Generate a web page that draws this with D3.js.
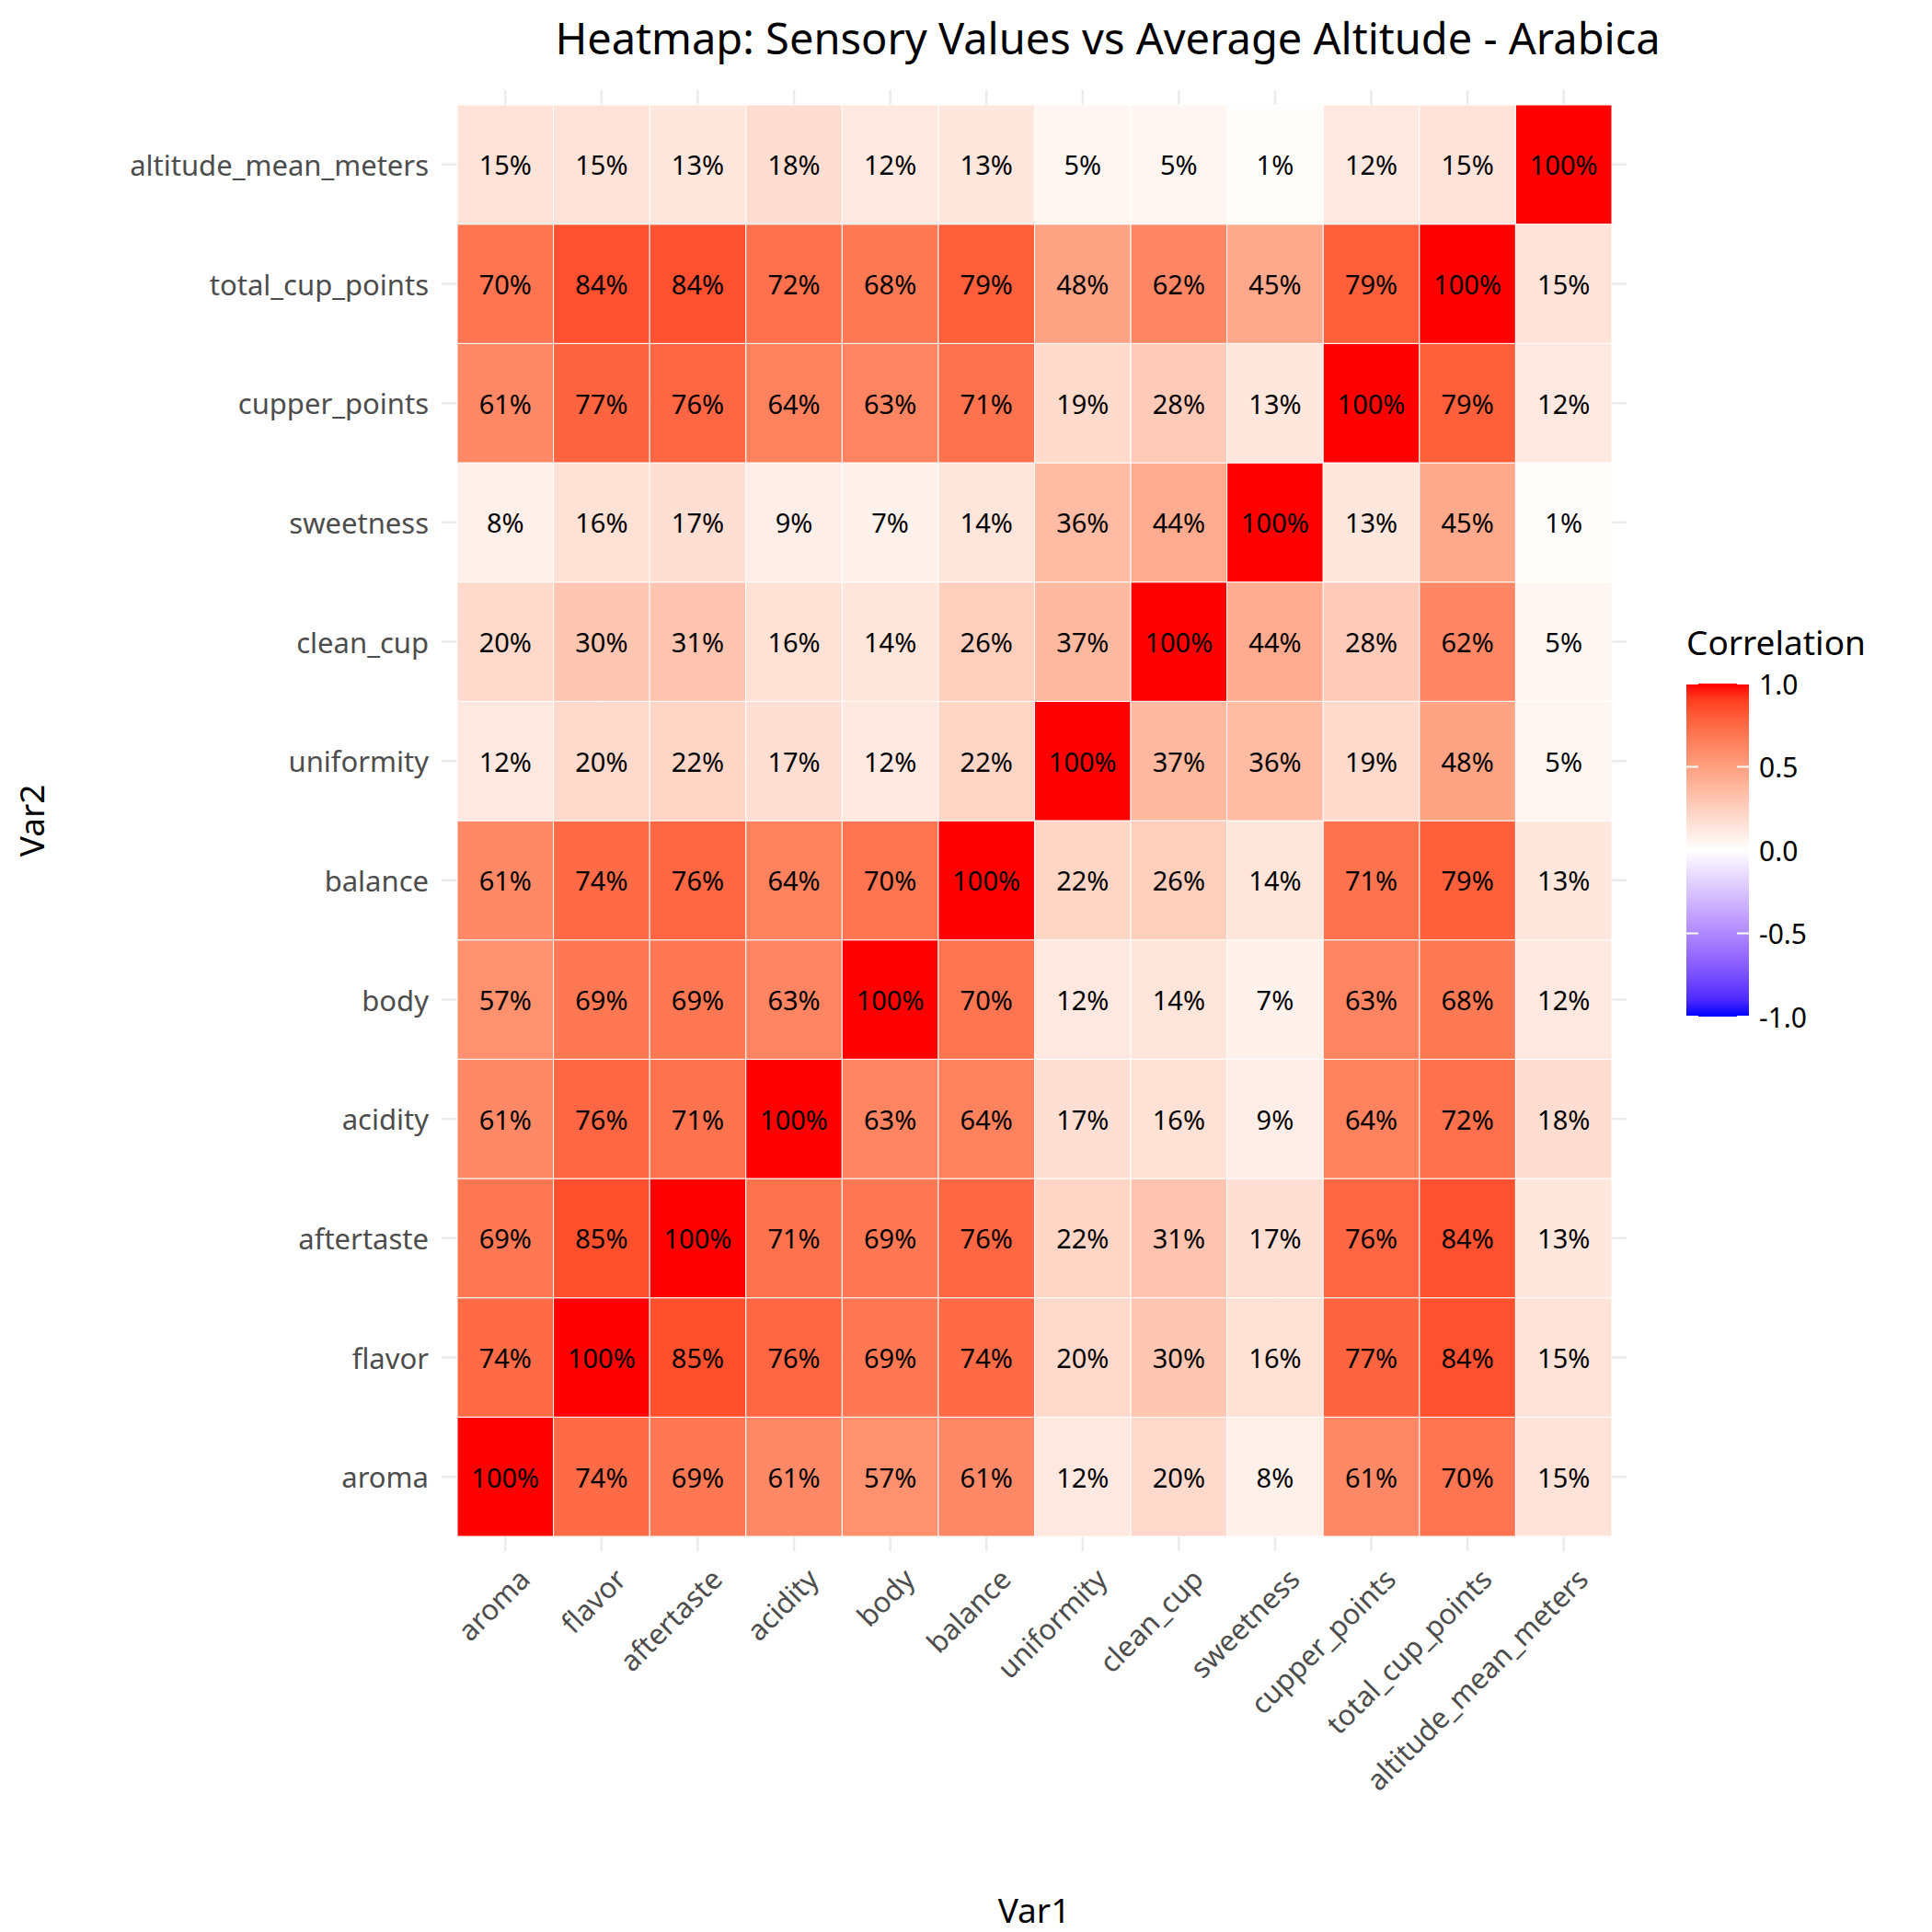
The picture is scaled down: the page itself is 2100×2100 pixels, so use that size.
<!DOCTYPE html>
<html><head><meta charset="utf-8">
<script src="https://cdn.jsdelivr.net/npm/d3@7"></script>
<style>body{margin:0;background:#fff}</style></head>
<body><svg id="c" width="2100" height="2100"></svg>
<script>
const vars = ["aroma","flavor","aftertaste","acidity","body","balance","uniformity","clean_cup","sweetness","cupper_points","total_cup_points","altitude_mean_meters"];
const r_aroma      = [100,74,69,61,57,61,12,20,8,61,70,15];
const r_flavor     = [74,100,85,76,69,74,20,30,16,77,84,15];
const r_aftertaste = [69,85,100,71,69,76,22,31,17,76,84,13];
const r_acidity    = [61,76,71,100,63,64,17,16,9,64,72,18];
const r_body       = [57,69,69,63,100,70,12,14,7,63,68,12];
const r_balance    = [61,74,76,64,70,100,22,26,14,71,79,13];
const r_uniformity = [12,20,22,17,12,22,100,37,36,19,48,5];
const r_clean_cup  = [20,30,31,16,14,26,37,100,44,28,62,5];
const r_sweetness  = [8,16,17,9,7,14,36,44,100,13,45,1];
const r_cupper     = [61,77,76,64,63,71,19,28,13,100,79,12];
const r_total      = [70,84,84,72,68,79,48,62,45,79,100,15];
const r_altitude   = [15,15,13,18,12,13,5,5,1,12,15,100];
const rows = [r_aroma,r_flavor,r_aftertaste,r_acidity,r_body,r_balance,r_uniformity,r_clean_cup,r_sweetness,r_cupper,r_total,r_altitude];
const legendTicks = [1.0,0.5,0.0,-0.5,-1.0];

const svg = d3.select("#c");
const font = "Noto Sans, Open Sans, sans-serif";
const x0=497,x1=1752,y0=114,y1=1670;
const x = d3.scaleBand().domain(vars).range([x0,x1]);
const y = d3.scaleBand().domain(vars).range([y1,y0]);
const color = d3.scaleLinear().domain([-1,0,1]).range(["blue","white","red"]).interpolate(d3.interpolateLab);

const g = svg.append("g");
vars.forEach(v=>{
  g.append("line").attr("x1",x(v)+x.bandwidth()/2).attr("x2",x(v)+x.bandwidth()/2).attr("y1",98).attr("y2",1686).attr("stroke","#ebebeb").attr("stroke-width",2.5);
  g.append("line").attr("y1",y(v)+y.bandwidth()/2).attr("y2",y(v)+y.bandwidth()/2).attr("x1",480).attr("x2",1768).attr("stroke","#ebebeb").attr("stroke-width",2.5);
});
const cells=[];
rows.forEach((row,i)=>row.forEach((val,j)=>cells.push({v1:vars[j],v2:vars[i],val})));
g.selectAll("rect.c").data(cells).join("rect")
 .attr("x",d=>x(d.v1)).attr("y",d=>y(d.v2)).attr("width",x.bandwidth()).attr("height",y.bandwidth())
 .attr("fill",d=>color(d.val/100)).attr("stroke","white").attr("stroke-width",1);
g.selectAll("text.c").data(cells).join("text")
 .attr("x",d=>x(d.v1)+x.bandwidth()/2).attr("y",d=>y(d.v2)+y.bandwidth()/2)
 .attr("text-anchor","middle").attr("dominant-baseline","central")
 .attr("font-family",font).attr("font-size",29).attr("fill","black").text(d=>d.val+"%");

vars.forEach(v=>{
  svg.append("text").attr("x",466).attr("y",y(v)+y.bandwidth()/2).attr("text-anchor","end").attr("dominant-baseline","central")
   .attr("font-family",font).attr("font-size",31).attr("fill","#4d4d4d").text(v);
  const cx=x(v)+x.bandwidth()/2+10, cy=1700;
  svg.append("text").attr("transform",`translate(${cx},${cy}) rotate(-45)`).attr("text-anchor","end").attr("dominant-baseline","hanging")
   .attr("font-family",font).attr("font-size",31).attr("fill","#4d4d4d").text(v);
});
svg.append("text").attr("x",1124).attr("y",2090).attr("text-anchor","middle").attr("font-family",font).attr("font-size",37).text("Var1");
svg.append("text").attr("transform","translate(48,892) rotate(-90)").attr("text-anchor","middle").attr("font-family",font).attr("font-size",37).text("Var2");
svg.append("text").attr("x",1204).attr("y",59).attr("text-anchor","middle").attr("font-family",font).attr("font-size",47).text("Heatmap: Sensory Values vs Average Altitude - Arabica");

// legend
const ly = d3.scaleLinear().domain([-1,1]).range([1105,743]);
const defs=svg.append("defs");
const grad=defs.append("linearGradient").attr("id","gr").attr("x1",0).attr("x2",0).attr("y1",1).attr("y2",0);
d3.range(0,1.0001,0.05).forEach(t=>grad.append("stop").attr("offset",t).attr("stop-color",color(-1+2*t)));
svg.append("rect").attr("x",1833).attr("y",743).attr("width",68).attr("height",362).attr("fill","url(#gr)");
svg.append("text").attr("x",1833).attr("y",712).attr("font-family",font).attr("font-size",37).text("Correlation");
legendTicks.forEach(t=>{
  svg.append("line").attr("x1",1833).attr("x2",1846).attr("y1",ly(t)).attr("y2",ly(t)).attr("stroke","white").attr("stroke-width",2);
  svg.append("line").attr("x1",1888).attr("x2",1901).attr("y1",ly(t)).attr("y2",ly(t)).attr("stroke","white").attr("stroke-width",2);
  svg.append("text").attr("x",1912).attr("y",ly(t)).attr("dominant-baseline","central").attr("font-family",font).attr("font-size",30).text(t.toFixed(1));
});
</script></body></html>
